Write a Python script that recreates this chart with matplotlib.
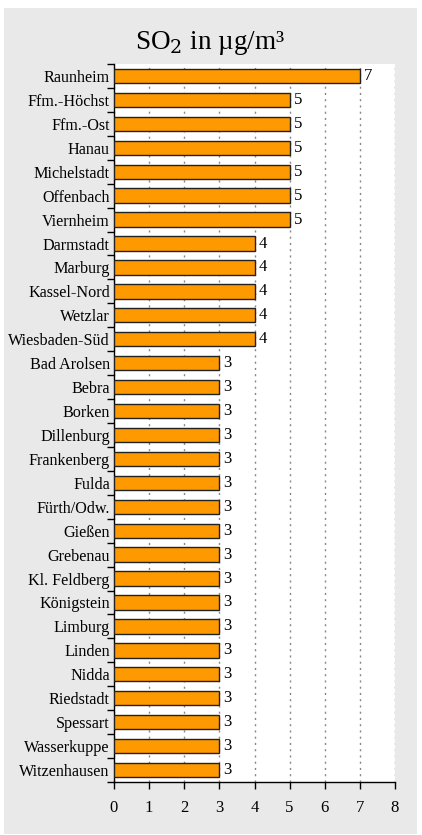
import matplotlib.pyplot as plt
import matplotlib.patches as patches

stations = ["Raunheim", "Ffm.-Höchst", "Ffm.-Ost", "Hanau", "Michelstadt", "Offenbach",
            "Viernheim", "Darmstadt", "Marburg", "Kassel-Nord", "Wetzlar", "Wiesbaden-Süd",
            "Bad Arolsen", "Bebra", "Borken", "Dillenburg", "Frankenberg", "Fulda",
            "Fürth/Odw.", "Gießen", "Grebenau", "Kl. Feldberg", "Königstein", "Limburg",
            "Linden", "Nidda", "Riedstadt", "Spessart", "Wasserkuppe", "Witzenhausen"]
so2 = [7, 5, 5, 5, 5, 5, 5, 4, 4, 4, 4, 4,
       3, 3, 3, 3, 3, 3, 3, 3, 3, 3, 3, 3, 3, 3, 3, 3, 3, 3]
xticks = [0, 1, 2, 3, 4, 5, 6, 7, 8]

plt.rcParams['font.family'] = ['Liberation Serif', 'DejaVu Serif']

W, H = 422, 835
fig = plt.figure(figsize=(W / 100, H / 100), dpi=100)
fig.patch.set_facecolor('white')

# grey panel behind everything
fig.add_artist(patches.Rectangle((4 / W, 1 - 834 / H), 413 / W, 826 / H,
                                 transform=fig.transFigure, facecolor='#e9e9e9',
                                 edgecolor='none', zorder=-10))

ax = fig.add_axes([114 / W, 1 - 782 / H, (395 - 114) / W, (782 - 64) / H])
ax.set_facecolor('white')

n = len(stations)
ypos = list(range(n))
ax.barh(ypos, so2, height=0.6, color='#ff9900', edgecolor='#222222', linewidth=1.0, zorder=3)
for y, v in zip(ypos, so2):
    ax.text(v + 0.12, y, str(v), va='center', ha='left', fontsize=12, zorder=4)

ax.set_ylim(n - 0.5, -0.5)
ax.set_xlim(0, 8)
ax.set_xticks(xticks)
ax.set_xticklabels([str(t) for t in xticks], fontsize=12)
ax.set_yticks(ypos)
ax.set_yticklabels(stations, fontsize=11.6)
ax.tick_params(axis='y', length=0, pad=3)
ax.tick_params(axis='x', length=5, width=1, pad=8)

# y ticks at category boundaries
ax.set_yticks([i - 0.5 for i in range(n + 1)], minor=True)
ax.tick_params(axis='y', which='minor', length=5, width=1)

ax.xaxis.grid(True, linestyle=(0, (1.5, 3)), color='#888888', linewidth=1.0, zorder=0)
ax.set_axisbelow(True)
for s in ['top', 'right']:
    ax.spines[s].set_visible(False)
ax.spines['left'].set_linewidth(1.0)
ax.spines['bottom'].set_linewidth(1.0)

fig.text(210 / W, 1 - 43 / H, "SO$_2$ in µg/m³", ha='center', va='center', fontsize=19.5,
         math_fontfamily='dejavuserif')

plt.savefig('out.png', dpi=100)
plt.close()
